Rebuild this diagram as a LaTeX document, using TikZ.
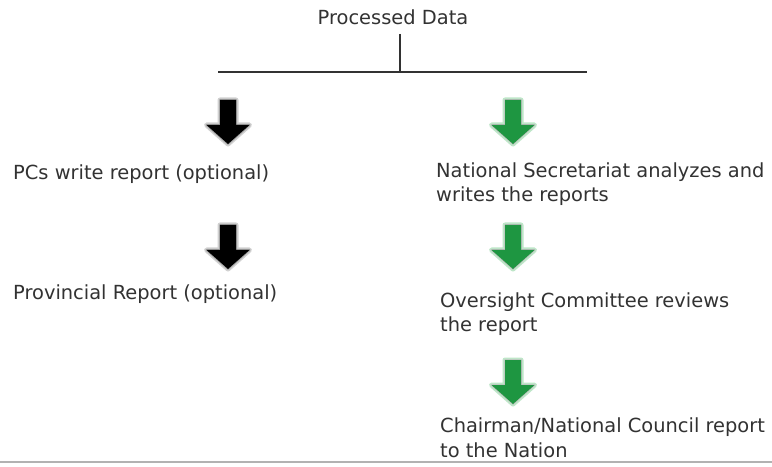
\documentclass[tikz,border=0pt]{standalone}
\usepackage{fontspec}
\setmainfont{DejaVu Sans}
\definecolor{txt}{RGB}{50,50,50}
\definecolor{arrgreen}{RGB}{30,150,65}
\definecolor{glowgreen}{RGB}{190,230,200}
\begin{document}
\begin{tikzpicture}[x=1bp,y=-1bp,
  lbl/.style={inner sep=0pt, anchor=base west, text=txt, align=left,
    font=\fontsize{19.5}{24.5}\selectfont},
  conn/.style={draw=txt, line width=2bp},
  blockarrow/.pic={
    \path[pic actions] (-8,0) -- (8,0) -- (8,25) -- (21.5,25) -- (0,44) -- (-21.5,25) -- (-8,25) -- cycle;
  },
  glow/.style={draw=black!18, line width=5bp, line join=round},
  glow2/.style={draw=black!35, line width=2bp, line join=round},
]
\useasboundingbox (0,0) rectangle (772,467);
\fill[white] (0,0) rectangle (772,467);

% title and bracket
\node[lbl, anchor=base] (pd) at (393,25) {Processed Data};
\coordinate (stem) at (400,34);
\coordinate (bm) at (400,72);
\coordinate (bl) at (218,72);
\coordinate (br) at (587,72);
\draw[conn] (stem) -- (bm);
\draw[conn] (bl) -- (br);

% left column
\node[lbl] (pcs) at (13,180) {PCs write report (optional)};
\node[lbl] (prov) at (13,300) {Provincial Report (optional)};

% right column (anchor = baseline of last line)
\node[lbl] (nat) at (436,202) {National Secretariat analyzes and\\writes the reports};
\node[lbl] (ovs) at (440,332) {Oversight Committee reviews\\the report};
\node[lbl] (chr) at (440,457) {Chairman/National Council report\\to the Nation};

% black arrows
\foreach \y in {100,225}{
  \pic[glow] at (228,\y) {blockarrow};
  \pic[glow2] at (228,\y) {blockarrow};
  \pic[fill=black] at (228,\y) {blockarrow};
}
% green arrows
\foreach \y in {100,225,360}{
  \pic[draw=glowgreen, line width=5bp, line join=round] at (513,\y) {blockarrow};
  \pic[draw=black!25, line width=1.5bp, line join=round] at (513,\y) {blockarrow};
  \pic[fill=arrgreen] at (513,\y) {blockarrow};
}

% bottom rule
\draw[draw=black!30, line width=2bp] (0,462) -- (772,462);
\end{tikzpicture}
\end{document}
